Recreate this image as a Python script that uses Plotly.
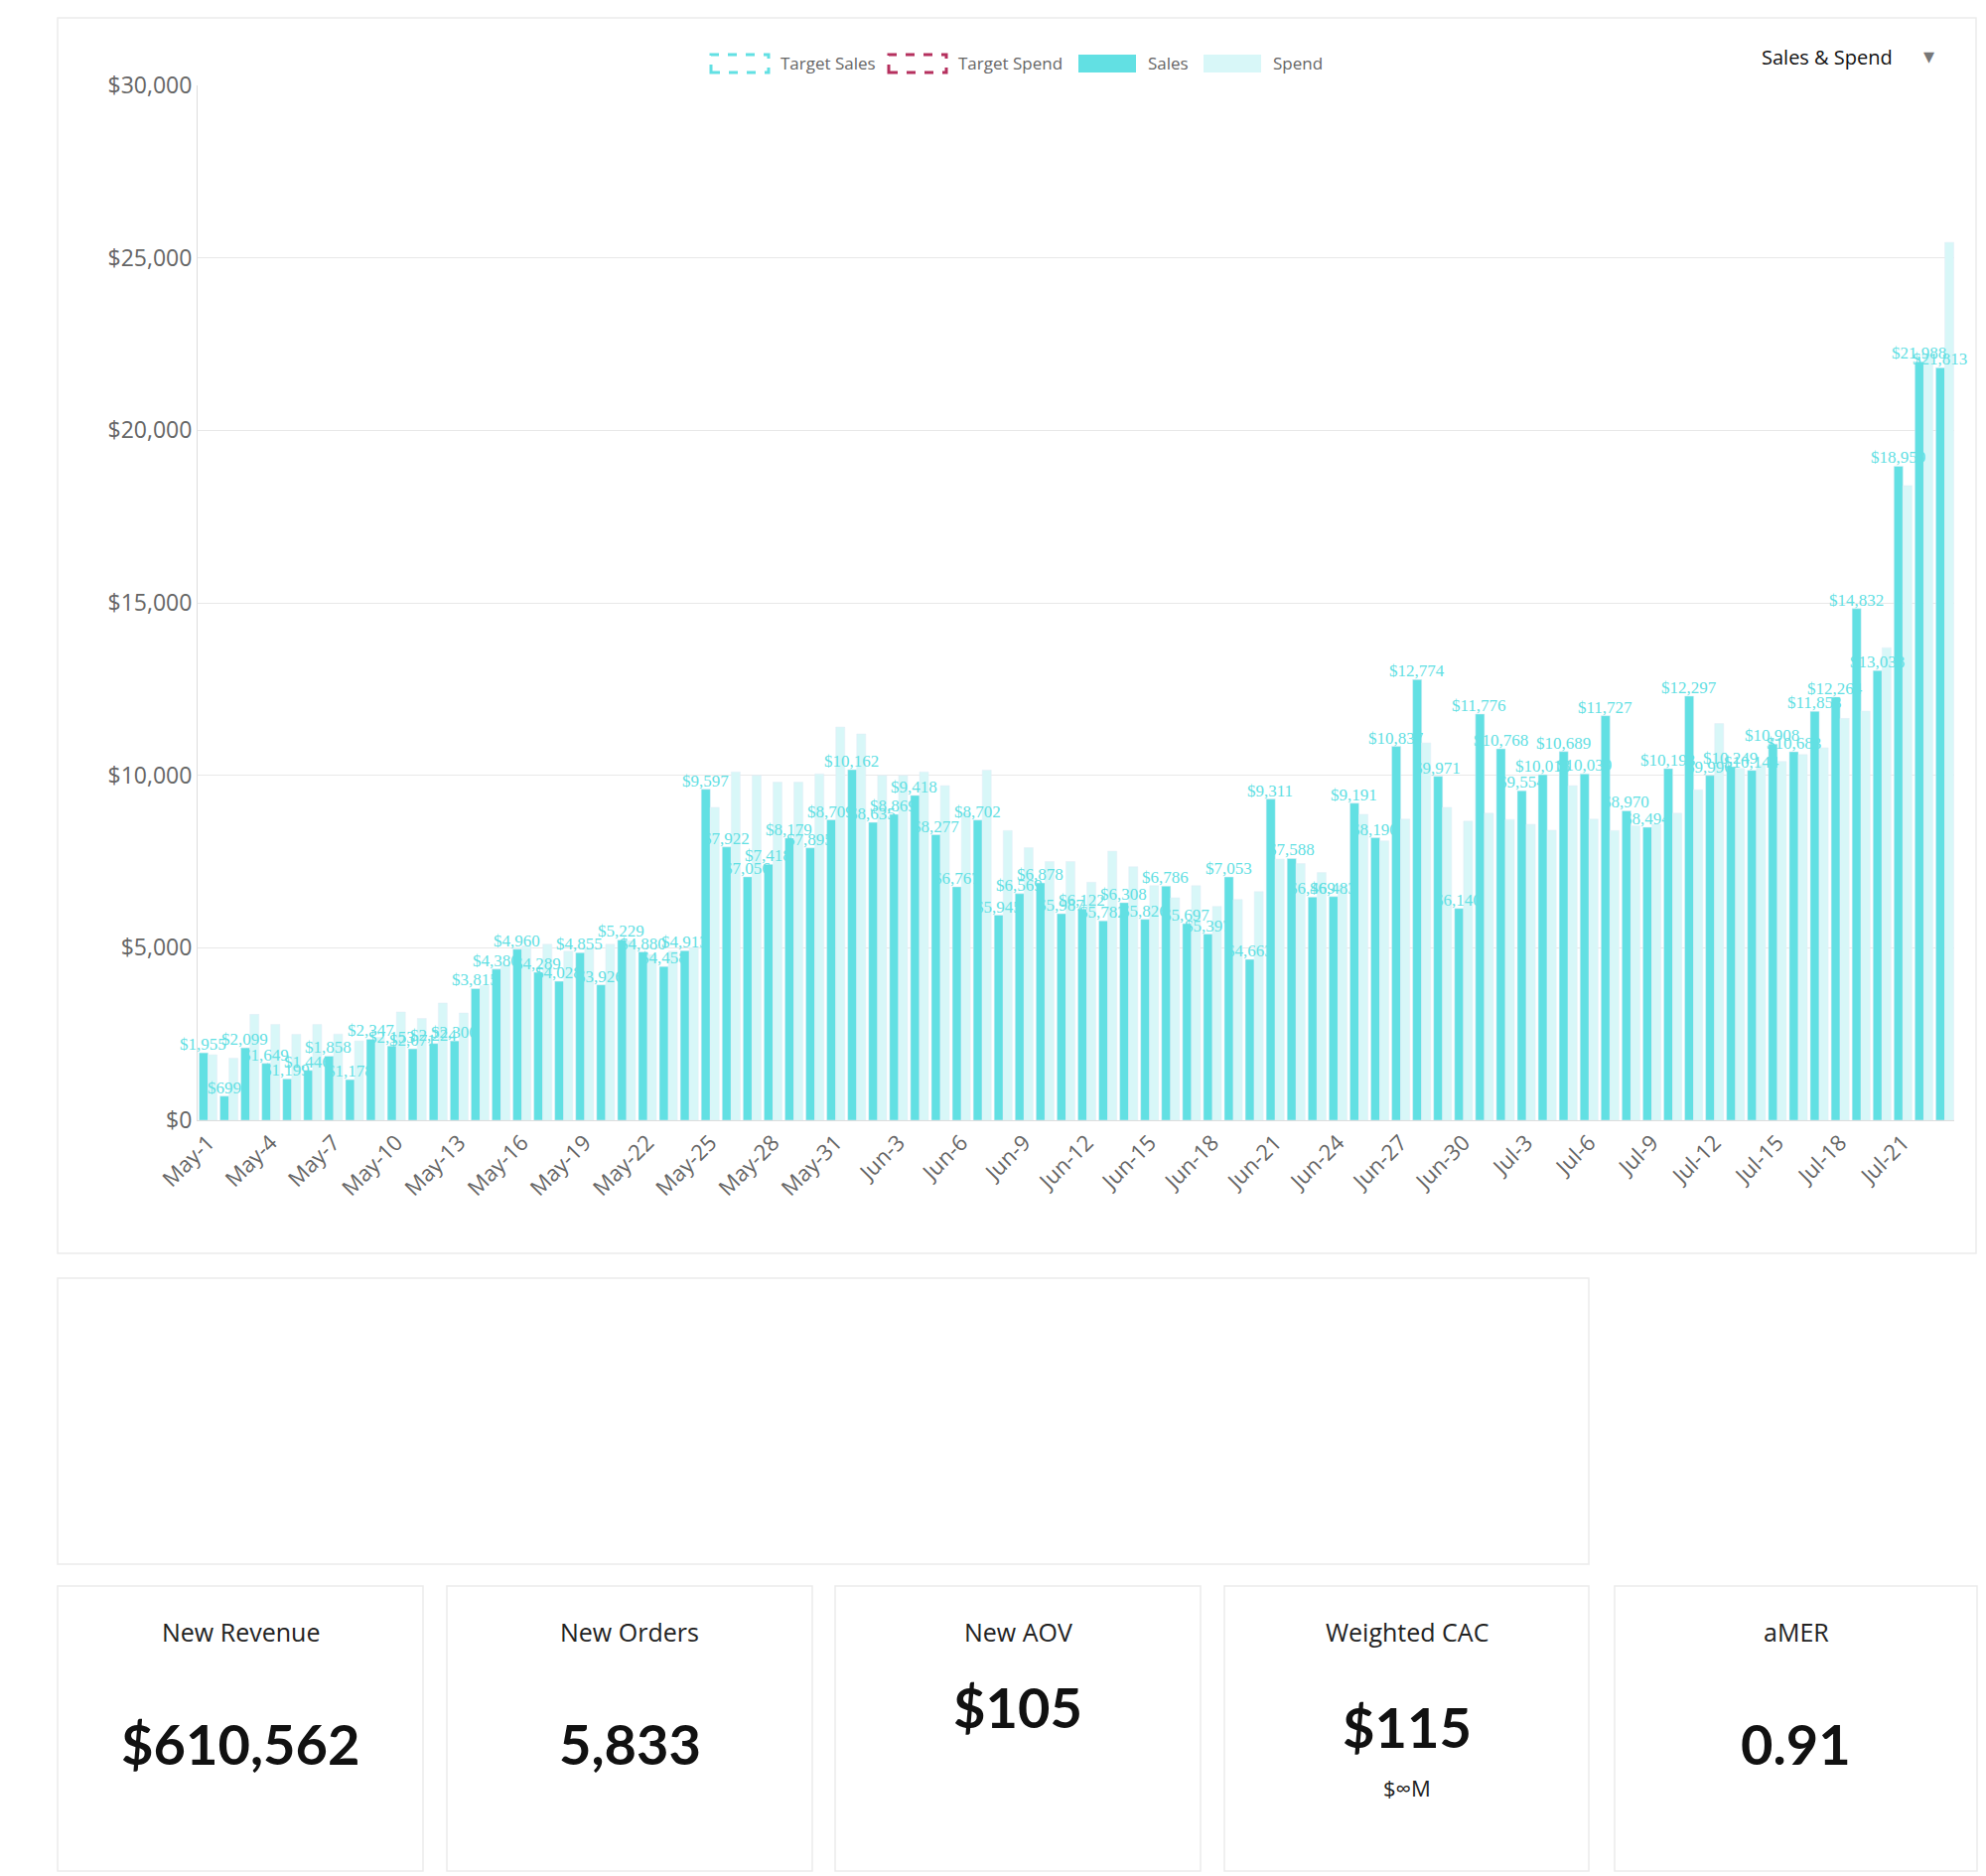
import plotly.graph_objects as go
import pandas as pd

dates = pd.date_range("2023-05-01", "2023-07-23")
categories = [f"{d.strftime('%b')}-{d.day}" for d in dates]

sales = [1955, 699, 2099, 1649, 1199, 1446, 1858, 1178, 2347, 2153, 2071, 2224, 2300,
         3815, 4380, 4960, 4289, 4028, 4855, 3926, 5229, 4880, 4458, 4913,
         9597, 7922, 7056, 7418, 8179, 7895, 8709, 10162, 8635, 8869, 9418, 8277, 6767, 8702,
         5945, 6569, 6878, 5987, 6122, 5782, 6308, 5826, 6786, 5697, 5397, 7053, 4663,
         9311, 7588, 6469, 6483, 9191, 8190, 10837, 12774, 9971, 6140, 11776, 10768, 9554,
         10018, 10689, 10039, 11727, 8970, 8494, 10193, 12297, 9996, 10249, 10144, 10908,
         10683, 11853, 12264, 14832, 13038, 18959, 21988, 21813]
spend = [1900, 1800, 3070, 2780, 2490, 2780, 2500, 2300, 2400, 3140, 2950, 3400, 3110,
         3900, 4500, 5050, 5100, 4900, 5000, 5100, 5200, 4800, 4900, 5000,
         9070, 10100, 10000, 9800, 9800, 10040, 11400, 11200, 10000, 10000, 10100, 9700, 8900, 10150,
         8400, 7900, 7500, 7500, 6900, 7800, 7350, 6800, 6450, 6800, 6200, 6400, 6630,
         7570, 7440, 7180, 6800, 8870, 8100, 8730, 10940, 9070, 8670, 8900, 8720, 8580,
         8410, 9700, 8730, 8400, 8540, 8580, 8900, 9580, 11500, 10200, 10300, 10400,
         10600, 10800, 11650, 11860, 13700, 18400, 22200, 25450]
y_ticks = [0, 5000, 10000, 15000, 20000, 25000, 30000]
y_tick_labels = ["$0", "$5,000", "$10,000", "$15,000", "$20,000", "$25,000", "$30,000"]

kpi_titles = ["New Revenue", "New Orders", "New AOV", "Weighted CAC", "aMER"]
kpi_values = ["$610,562", "5,833", "$105", "$115", "0.91"]
kpi_sub = ["", "", "", "$∞M", ""]

W, H = 2000, 1889
SALES_C = "#62E0E3"
SPEND_C = "#D8F7F8"

def px(x): return x / W
def py(y): return 1 - y / H

fig = go.Figure()
fig.add_bar(x=categories, y=sales, name="Sales", marker_color=SALES_C, showlegend=False)
fig.add_bar(x=categories, y=spend, name="Spend", marker_color=SPEND_C, showlegend=False)

shapes = []
ann = []
for c, v in zip(categories, sales):
    ann.append(dict(x=c, y=v, xref="x", yref="y", text=f"${v:,}", showarrow=False,
                    xanchor="center", yanchor="bottom", xshift=-5, yshift=-3,
                    font=dict(family="Liberation Serif", size=17, color=SALES_C)))

def card(x0, y0, x1, y1):
    shapes.append(dict(type="rect", xref="paper", yref="paper", x0=px(x0), x1=px(x1),
                       y0=py(y1), y1=py(y0), line=dict(color="#EBEBEB", width=1.5),
                       fillcolor="white", layer="below"))
card(58, 18, 1990, 1262)
card(58, 1287, 1600, 1575)
kx = [(58, 426), (450, 818), (841, 1209), (1233, 1600), (1626, 1991)]
vy = [1755, 1755, 1718, 1738, 1755]
for (a, b), t, v, s, yv in zip(kx, kpi_titles, kpi_values, kpi_sub, vy):
    card(a, 1597, b, 1884)
    c = px((a + b) / 2)
    ann.append(dict(x=c, y=py(1643), xref="paper", yref="paper", text=t, showarrow=False,
                    xanchor="center", yanchor="middle",
                    font=dict(family="Open Sans", size=25, color="#222")))
    ann.append(dict(x=c, y=py(yv), xref="paper", yref="paper", text=f"<b>{v}</b>", showarrow=False,
                    xanchor="center", yanchor="middle",
                    font=dict(family="Lato", size=56, color="#111")))
    if s:
        ann.append(dict(x=c, y=py(1800), xref="paper", yref="paper", text=s, showarrow=False,
                        xanchor="center", yanchor="middle",
                        font=dict(family="Open Sans", size=22, color="#222")))

leg = [("Target Sales", 716, dict(color=SALES_C, width=3, dash="dash"), "white"),
       ("Target Spend", 895, dict(color="#B5305E", width=3, dash="dash"), "white"),
       ("Sales", 1086, dict(width=0), SALES_C),
       ("Spend", 1212, dict(width=0), SPEND_C)]
for name, x0, line, fill in leg:
    shapes.append(dict(type="rect", xref="paper", yref="paper", x0=px(x0), x1=px(x0 + 58),
                       y0=py(73), y1=py(55), line=line, fillcolor=fill))
    ann.append(dict(x=px(x0 + 68), y=py(64), xref="paper", yref="paper", text=name,
                    showarrow=False, xanchor="left", yanchor="middle",
                    font=dict(family="Open Sans", size=17, color="#666")))
ann.append(dict(x=px(1908), y=py(57), xref="paper", yref="paper", text="Sales & Spend",
                showarrow=False, xanchor="right", yanchor="middle",
                font=dict(family="Open Sans", size=20, color="#111")))
ann.append(dict(x=px(1942), y=py(55), xref="paper", yref="paper", text="▾",
                showarrow=False, xanchor="center", yanchor="middle",
                font=dict(size=22, color="#777")))

fig.update_layout(
    width=W, height=H, margin=dict(l=0, r=0, t=0, b=0, autoexpand=False),
    paper_bgcolor="white", plot_bgcolor="rgba(0,0,0,0)",
    barmode="group", bargap=0.14, bargroupgap=0.0,
    shapes=shapes, annotations=ann,
    xaxis=dict(domain=[px(199), px(1968)], range=[-0.5, 83.45], tickangle=-45, tickmode="array",
               tickvals=categories[::3], ticktext=categories[::3], showgrid=False,
               showline=True, linecolor="#DDD", automargin=False,
               tickfont=dict(family="Open Sans", size=22, color="#666"), anchor="y"),
    yaxis=dict(domain=[py(1128), py(86)], range=[0, 30000], tickvals=y_ticks,
               ticktext=y_tick_labels, gridcolor="#E8E8E8", showline=True, linecolor="#DDD",
               zeroline=False, automargin=False,
               tickfont=dict(family="Open Sans", size=23, color="#666")),
)
fig.write_html("out.html", config={"displayModeBar": False})
with open("out.html", encoding="utf-8") as f:
    html = f.read()
html = html.replace("<head>", "<head><style>html,body{margin:0;padding:0;overflow:hidden}</style>", 1)
with open("out.html", "w", encoding="utf-8") as f:
    f.write(html)
